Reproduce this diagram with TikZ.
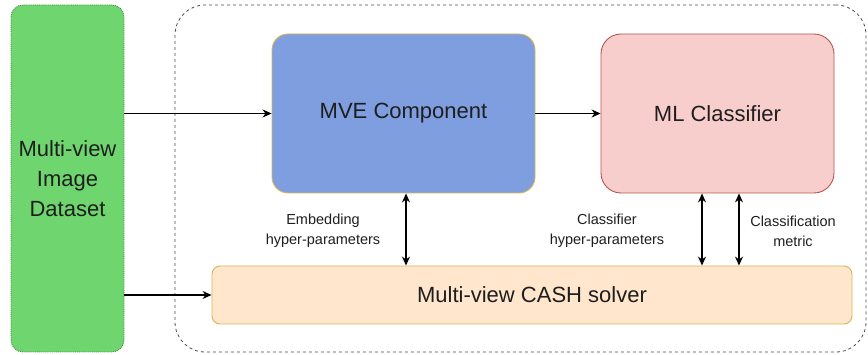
\documentclass[tikz,border=0pt]{standalone}
\usepackage{fontspec}
\setmainfont{Liberation Sans}
\usetikzlibrary{arrows.meta}
\definecolor{greenfill}{HTML}{6FD66F}
\definecolor{greenline}{HTML}{3C8A3C}
\definecolor{mvefill}{HTML}{7E9EE0}
\definecolor{goldline}{HTML}{D6B656}
\definecolor{mlfill}{HTML}{F8CECC}
\definecolor{mlline}{HTML}{B85450}
\definecolor{cashfill}{HTML}{FFE6CC}
\definecolor{txt}{HTML}{1E1E1E}
\tikzset{
  blk/.style={draw, line width=0.9pt, inner sep=0pt, align=center, text=txt, font=\fontsize{22}{30}\selectfont},
  lbl/.style={align=center, text=txt, font=\fontsize{14.5}{20}\selectfont, inner sep=0pt},
  arr/.style={line width=1.1pt, -{Stealth[length=9pt,width=8pt]}},
  darr/.style={line width=1.1pt, {Stealth[length=9pt,width=8pt]}-{Stealth[length=9pt,width=8pt]}},
}
\begin{document}
\begin{tikzpicture}[x=1pt,y=-1pt]
\useasboundingbox (0,0) rectangle (868,355);
\node[draw=black!70, dashed, line width=0.8pt, rounded corners=30pt, minimum width=691pt, minimum height=347pt, inner sep=0pt] (cont) at (520.5,178.5) {};
\node[blk, fill=greenfill, draw=greenline, densely dotted, rounded corners=12pt, minimum width=113pt, minimum height=347pt] (data) at (67.5,178.5) {Multi-view\\Image\\Dataset};
\node[blk, fill=mvefill, draw=goldline, rounded corners=16pt, minimum width=263pt, minimum height=159pt] (mve) at (403.5,113.5) {MVE Component};
\node[blk, fill=mlfill, draw=mlline, rounded corners=20pt, minimum width=233pt, minimum height=159pt] (ml) at (717.5,113.5) {ML Classifier};
\node[blk, fill=cashfill, draw=goldline, rounded corners=8pt, minimum width=640pt, minimum height=58pt] (cash) at (532,295) {Multi-view CASH solver};
\draw[arr] (data.east |- mve.west) -- (mve.west);
\draw[arr] (data.east |- cash.west) -- (cash.west);
\draw[arr] (mve.east) -- (ml.west);
\draw[darr] ([xshift=2.5pt]mve.south) -- ([xshift=2.5pt]mve.south |- cash.north);
\draw[darr] ([xshift=-15.5pt]ml.south) -- ([xshift=-15.5pt]ml.south |- cash.north);
\draw[darr] ([xshift=21.5pt]ml.south) -- ([xshift=21.5pt]ml.south |- cash.north);
\node[lbl] (l1) at (323,231) {Embedding\\hyper-parameters};
\node[lbl] (l2) at (607,231) {Classifier\\hyper-parameters};
\node[lbl] (l3) at (793,231) {Classification\\metric};
\end{tikzpicture}
\end{document}
